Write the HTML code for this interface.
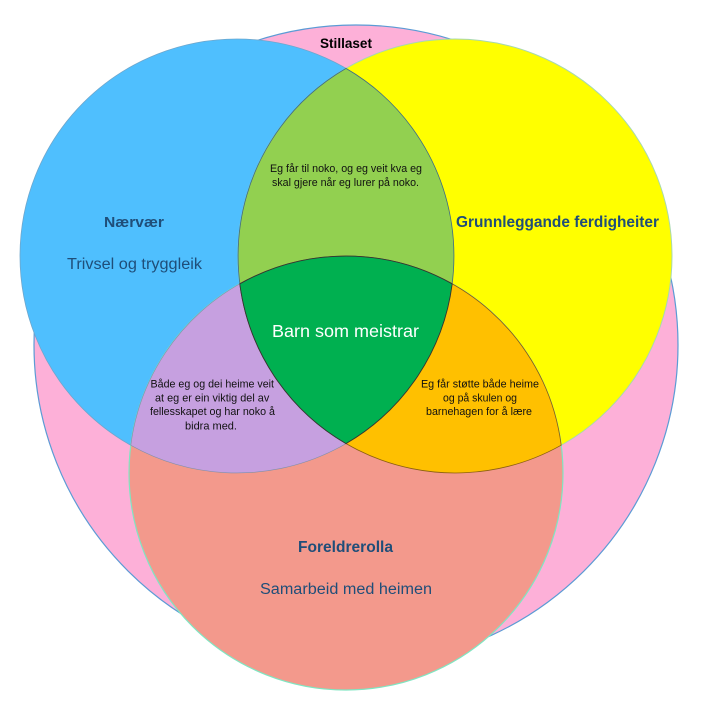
<!DOCTYPE html>
<html>
<head>
<meta charset="utf-8">
<style>
  html, body { margin: 0; padding: 0; background: #ffffff; }
  svg { display: block; }
  text { font-family: "Liberation Sans", "DejaVu Sans", sans-serif; }
</style>
</head>
<body>
<svg width="709" height="704" viewBox="0 0 709 704" xmlns="http://www.w3.org/2000/svg">
  <rect x="0" y="0" width="709" height="704" fill="#ffffff"/>

  <!-- Stillaset (pink backdrop) -->
  <ellipse cx="356" cy="345" rx="322" ry="320" fill="#FDB0D8" stroke="#5B9BD5" stroke-width="1.2"/>

  <!-- Main circles -->
  <circle cx="237" cy="256" r="217" fill="#4FBFFE" stroke="#6EA6CC" stroke-width="0.8"/>
  <circle cx="455" cy="256" r="217" fill="#FFFF00" stroke="#A8D8B0" stroke-width="1"/>
  <circle cx="346" cy="473" r="217" fill="#F3998C" stroke="#7FE6C2" stroke-width="1.2"/>

  <!-- Blue ∩ Yellow (light green) -->
  <path d="M346 68.4 A217 217 0 0 1 346 443.6 A217 217 0 0 1 346 68.4 Z"
        fill="#92D050" stroke="#3E6A85" stroke-width="0.8"/>

  <!-- Blue ∩ Salmon (purple) -->
  <path d="M130.8 445.2 A217 217 0 0 1 452.2 283.8 A217 217 0 0 1 130.8 445.2 Z"
        fill="#C6A0E0" stroke="#7D8FA8" stroke-width="0.6"/>

  <!-- Yellow ∩ Salmon (orange) -->
  <path d="M239.8 283.8 A217 217 0 0 1 561.2 445.2 A217 217 0 0 1 239.8 283.8 Z"
        fill="#FFC000" stroke="#8A5E10" stroke-width="0.8"/>

  <!-- Triple intersection (dark green) -->
  <path d="M239.8 283.8 A217 217 0 0 1 452.2 283.8 A217 217 0 0 1 346 443.6 A217 217 0 0 1 239.8 283.8 Z"
        fill="#00B050" stroke="#333333" stroke-width="0.9"/>

  <!-- Labels -->
  <text x="320" y="48" font-size="14" font-weight="bold" fill="#000" textLength="52" lengthAdjust="spacingAndGlyphs">Stillaset</text>

  <text x="104" y="227" font-size="15" font-weight="bold" fill="#1F4E79" textLength="60" lengthAdjust="spacingAndGlyphs">Nærvær</text>
  <text x="67" y="269" font-size="15.5" fill="#1F4E79" textLength="135" lengthAdjust="spacingAndGlyphs">Trivsel og tryggleik</text>

  <text x="456" y="227" font-size="15.5" font-weight="bold" fill="#1F4E79" textLength="203" lengthAdjust="spacingAndGlyphs">Grunnleggande ferdigheiter</text>

  <text x="270" y="172" font-size="11" fill="#111" textLength="152" lengthAdjust="spacingAndGlyphs">Eg får til noko, og eg veit kva eg</text>
  <text x="272" y="186" font-size="11" fill="#111" textLength="147" lengthAdjust="spacingAndGlyphs">skal gjere når eg lurer på noko.</text>

  <text x="272" y="337" font-size="17.5" fill="#ffffff" textLength="147" lengthAdjust="spacingAndGlyphs">Barn som meistrar</text>

  <text x="150.5" y="387.3" font-size="11" fill="#111" textLength="123.5" lengthAdjust="spacingAndGlyphs">Både eg og dei heime veit</text>
  <text x="155" y="401.7" font-size="11" fill="#111" textLength="114.3" lengthAdjust="spacingAndGlyphs">at eg er ein viktig del av</text>
  <text x="150" y="415" font-size="11" fill="#111" textLength="125" lengthAdjust="spacingAndGlyphs">fellesskapet og har noko å</text>
  <text x="185" y="429.3" font-size="11" fill="#111" textLength="52" lengthAdjust="spacingAndGlyphs">bidra med.</text>

  <text x="421" y="387.3" font-size="11" fill="#111" textLength="118" lengthAdjust="spacingAndGlyphs">Eg får støtte både heime</text>
  <text x="443" y="401.7" font-size="11" fill="#111" textLength="74" lengthAdjust="spacingAndGlyphs">og på skulen og</text>
  <text x="426" y="415" font-size="11" fill="#111" textLength="106" lengthAdjust="spacingAndGlyphs">barnehagen for å lære</text>

  <text x="298" y="552" font-size="15.5" font-weight="bold" fill="#1F4E79" textLength="95" lengthAdjust="spacingAndGlyphs">Foreldrerolla</text>
  <text x="260" y="594" font-size="15.5" fill="#1F4E79" textLength="172" lengthAdjust="spacingAndGlyphs">Samarbeid med heimen</text>
</svg>
</body>
</html>
